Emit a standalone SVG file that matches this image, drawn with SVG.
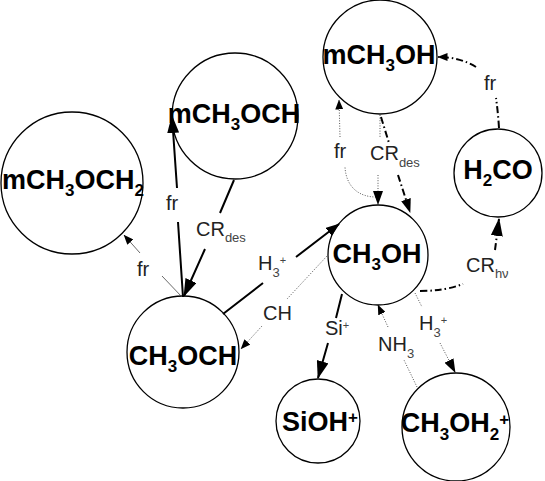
<svg xmlns="http://www.w3.org/2000/svg" width="545" height="481" viewBox="0 0 545 481">
<style>
.node circle{fill:#fff;stroke:#000;stroke-width:1.3}
.nt{font-family:"Liberation Sans",Arial,sans-serif;font-weight:bold;font-size:27px;fill:#000;text-anchor:middle}
.lb{font-family:"Liberation Sans",Arial,sans-serif;font-size:20px;fill:#222}
.sub{font-size:17px}
.lsub{font-size:13px;fill:#444}
.sup{font-size:11px;fill:#444}
.thick{fill:none;stroke:#000;stroke-width:2}
.thin{fill:none;stroke:#444;stroke-width:0.8}
.dot{fill:none;stroke:#555;stroke-width:1;stroke-dasharray:1 1.6}
.dd{fill:none;stroke:#000;stroke-width:2;stroke-dasharray:7 3 1.5 3}
</style>
<defs>
<marker id="aL" markerUnits="userSpaceOnUse" markerWidth="18" markerHeight="12" refX="17" refY="6" orient="auto"><path d="M0,0 L18,6 L0,12 z" fill="#000"/></marker>
<marker id="aM" markerUnits="userSpaceOnUse" markerWidth="14" markerHeight="10" refX="13" refY="5" orient="auto"><path d="M0,0 L14,5 L0,10 z" fill="#000"/></marker>
<marker id="aS" markerUnits="userSpaceOnUse" markerWidth="10" markerHeight="8" refX="9.5" refY="4" orient="auto"><path d="M0,0 L10,4 L0,8 z" fill="#000"/></marker>
</defs>

<g id="n-mCH3OCH2" class="node"><circle cx="72" cy="183" r="71"/><text class="nt" x="73" y="189">mCH<tspan class="sub" dy="7">3</tspan><tspan dy="-7">OCH</tspan><tspan class="sub" dy="7">2</tspan></text></g>
<g id="n-mCH3OCH" class="node"><circle cx="235" cy="116" r="63"/><text class="nt" x="234" y="123">mCH<tspan class="sub" dy="7">3</tspan><tspan dy="-7">OCH</tspan></text></g>
<g id="n-mCH3OH" class="node"><circle cx="380" cy="57" r="57"/><text class="nt" x="379" y="64">mCH<tspan class="sub" dy="7">3</tspan><tspan dy="-7">OH</tspan></text></g>
<g id="n-H2CO" class="node"><circle cx="498" cy="173" r="44"/><text class="nt" x="498" y="179">H<tspan class="sub" dy="7">2</tspan><tspan dy="-7">CO</tspan></text></g>
<g id="n-CH3OH" class="node"><circle cx="378" cy="255" r="50"/><text class="nt" x="377" y="263">CH<tspan class="sub" dy="7">3</tspan><tspan dy="-7">OH</tspan></text></g>
<g id="n-CH3OCH" class="node"><circle cx="183" cy="352" r="56"/><text class="nt" x="183" y="365">CH<tspan class="sub" dy="7">3</tspan><tspan dy="-7">OCH</tspan></text></g>
<g id="n-SiOH" class="node"><circle cx="318" cy="421" r="42"/><text class="nt" x="320" y="431">SiOH<tspan class="sub" dy="-8">+</tspan></text></g>
<g id="n-CH3OH2" class="node"><circle cx="456" cy="427" r="54"/><text class="nt" x="455" y="432">CH<tspan class="sub" dy="8">3</tspan><tspan dy="-8">OH</tspan><tspan class="sub" dy="8">2</tspan><tspan class="sub" dy="-15">+</tspan></text></g>

<g id="connectors">
<path class="thin" d="M182,297 L162,276 M140,253 L124,235" marker-end="url(#aS)"/>
<path class="thick" d="M183,297 L178,222 M177,188 L172,116" marker-end="url(#aL)"/>
<path class="thick" d="M234,180 L220,213 M205,249 L184,296" marker-end="url(#aL)"/>
<path class="thick" d="M223,314 L263,283 M296,257 L339,224" marker-end="url(#aM)"/>
<path class="dot" d="M327,256 L287,299 M262,326 L241,349" marker-end="url(#aS)"/>
<path class="dot" d="M376,197 C358,197 346,186 345,167 M340,137 L339,100" marker-end="url(#aS)"/>
<path class="dot" d="M380,115 L380,137 M378,175 L378,204" marker-end="url(#aM)"/>
<path class="dd" d="M381,117 L389,143 M398,175 L410,212" marker-end="url(#aM)"/>
<path class="dd" d="M499,128 Q498,112 496,98 M476,67 Q460,57 438,57" marker-end="url(#aS)"/>
<path class="dd" d="M420,291 Q445,291 463,284 M495,250 L499,219" marker-end="url(#aL)"/>
<path class="thick" d="M342,294 L336,318 M328,343 L318,378" marker-end="url(#aL)"/>
<path class="dot" d="M417,387 L404,360 M388,327 L378,305" marker-end="url(#aS)"/>
<path class="dot" d="M415,293 L422,307 M440,343 L455,372" marker-end="url(#aM)"/>
<text class="lb" x="137" y="276">fr</text>
<text class="lb" x="166" y="210">fr</text>
<text class="lb" x="196" y="236">CR<tspan class="lsub" dy="6">des</tspan></text>
<text class="lb" x="258" y="270">H<tspan class="lsub" dy="7">3</tspan><tspan class="sup" dy="-13">+</tspan></text>
<text class="lb" x="263" y="320">CH</text>
<text class="lb" x="334" y="158">fr</text>
<text class="lb" x="370" y="160">CR<tspan class="lsub" dy="7">des</tspan></text>
<text class="lb" x="484" y="90">fr</text>
<text class="lb" x="466" y="272">CR<tspan class="lsub" dy="6">hν</tspan></text>
<text class="lb" x="325" y="335">Si<tspan class="sup" dy="-6">+</tspan></text>
<text class="lb" x="378" y="351">NH<tspan class="lsub" dy="7">3</tspan></text>
<text class="lb" x="419" y="330">H<tspan class="lsub" dy="7">3</tspan><tspan class="sup" dy="-13">+</tspan></text>
</g>
</svg>
